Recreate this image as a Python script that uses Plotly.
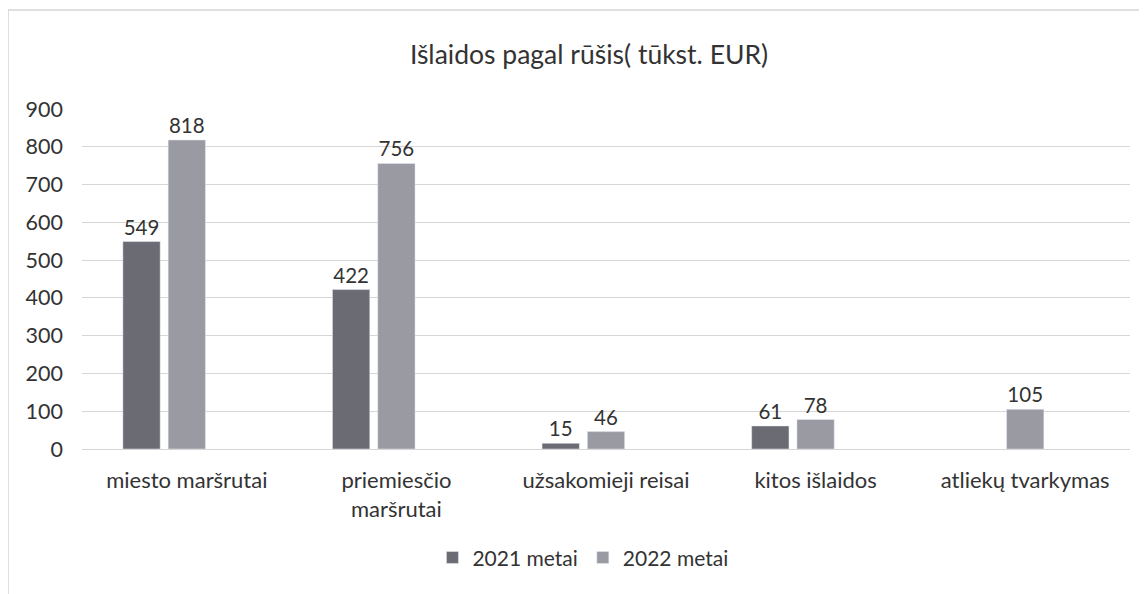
import plotly.graph_objects as go

categories = ["miesto maršrutai", "priemiesčio<br>maršrutai", "užsakomieji reisai", "kitos išlaidos", "atliekų tvarkymas"]
series_names = ["2021 metai", "2022 metai"]
values_2021 = [549, 422, 15, 61, None]
values_2022 = [818, 756, 46, 78, 105]
y_ticks = [0, 100, 200, 300, 400, 500, 600, 700, 800, 900]

FONT = "Lato, Carlito, Calibri, sans-serif"
TXT = "#333333"

fig = go.Figure()
fig.add_trace(go.Bar(
    x=categories, y=values_2021, name=series_names[0],
    marker=dict(color="#6b6b74"),
    width=0.178, offset=-0.305,
    text=[str(v) if v is not None else "" for v in values_2021],
    textposition="outside", cliponaxis=False,
    textfont=dict(family=FONT, size=20.5, color=TXT),
))
fig.add_trace(go.Bar(
    x=categories, y=values_2022, name=series_names[1],
    marker=dict(color="#9a9aa3"),
    width=0.178, offset=-0.089,
    text=[str(v) for v in values_2022],
    textposition="outside", cliponaxis=False,
    textfont=dict(family=FONT, size=20.5, color=TXT),
))

fig.update_layout(
    width=1147, height=594,
    margin=dict(l=74, r=25, t=101, b=153),
    paper_bgcolor="white", plot_bgcolor="white",
    font=dict(family=FONT, size=21, color=TXT),
    title=dict(text="Išlaidos pagal rūšis( tūkst. EUR)", x=581 / 1147, xanchor="center",
               y=1 - 47 / 594, yanchor="middle",
               font=dict(family=FONT, size=26.5, color=TXT)),
    barmode="group",
    showlegend=True,
    legend=dict(orientation="h", x=0.478, xanchor="center", y=-0.32, yanchor="middle",
                font=dict(family=FONT, size=21, color=TXT), itemwidth=30,
                traceorder="normal"),
    xaxis=dict(showgrid=False, showline=False, ticks="", tickfont=dict(family=FONT, size=22, color=TXT),
               ticklabelstandoff=16),
    yaxis=dict(range=[0, 900], tickvals=y_ticks, showgrid=True, gridcolor="#d6d6d6", gridwidth=1,
               zeroline=True, zerolinecolor="#d6d6d6", zerolinewidth=1, showline=False,
               tickfont=dict(family=FONT, size=21.5, color=TXT), ticklabelstandoff=18),
    shapes=[dict(type="rect", xref="paper", yref="paper",
                 x0=(8 - 82) / 1048, x1=1.2, y0=-0.7, y1=(449 - 10) / 340,
                 line=dict(color="#c0c0c0", width=1), layer="below")],
)

fig.write_html("out.html")
